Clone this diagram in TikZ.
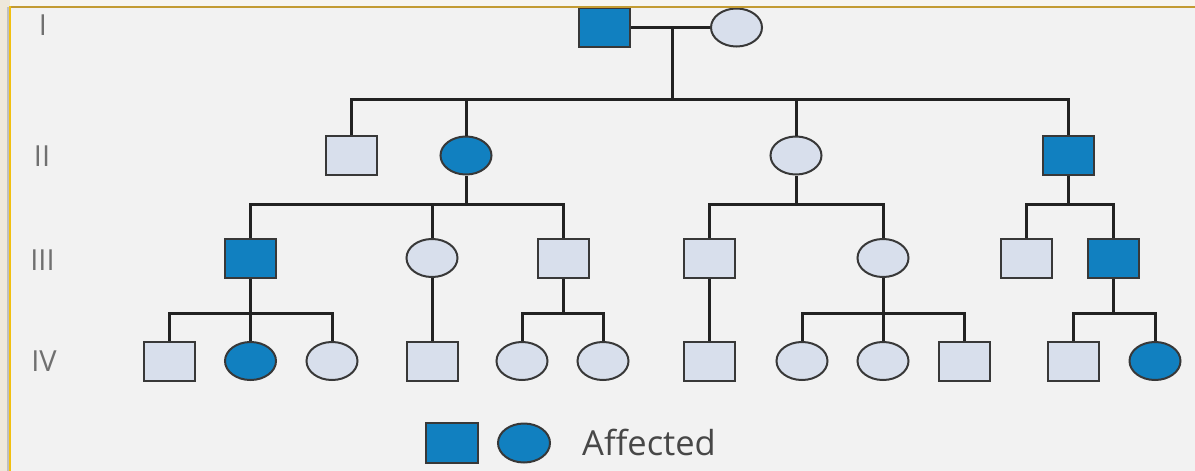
\documentclass[tikz,border=0pt]{standalone}
\usepackage{fontspec}
\setmainfont{Open Sans}
\usetikzlibrary{shapes.geometric}
\definecolor{paper}{HTML}{F2F2F2}
\definecolor{outside}{HTML}{EEE8DB}
\definecolor{outsidetop}{HTML}{F7F5EF}
\definecolor{framegold}{HTML}{C39B32}
\definecolor{frameyellow}{HTML}{F2C010}
\definecolor{affblue}{HTML}{1180C0}
\definecolor{unaff}{HTML}{D8DFEC}
\definecolor{edge}{HTML}{383838}
\definecolor{linecol}{HTML}{222222}
\definecolor{labelgray}{HTML}{707070}
\begin{document}
\begin{tikzpicture}[x=1pt,y={(0,-1pt)},
  person/.style={draw=edge,line width=2pt,inner sep=0pt,minimum width=51pt,minimum height=39pt},
  male/.style={person,rectangle,fill=unaff},
  female/.style={person,ellipse,fill=unaff,minimum height=38pt},
  affected/.style={fill=affblue},
  link/.style={draw=linecol,line width=3pt},
  genlabel/.style={text=labelgray,font=\fontsize{29}{34}\selectfont,inner sep=0pt}
]
% page and frame
\useasboundingbox (0,0) rectangle (1195,471);
\fill[outside] (0,0) rectangle (1195,471);
\fill[outsidetop] (10,0) rectangle (1195,7);
\fill[black!25] (7,7) rectangle (9,471);
\fill[paper] (10,7) rectangle (1195,471);

% generation I
\node[male,affected] (I1) at (604.5,27.5) {};
\node[female] (I2) at (736.5,27.5) {};

% generation II
\node[male] (II1) at (351,155.5) {};
\node[female,affected] (II2) at (466,155.5) {};
\node[female] (II3) at (796,155.5) {};
\node[male,affected] (II4) at (1068,155.5) {};

% generation III
\node[male,affected] (III1) at (250.5,258) {};
\node[female] (III2) at (432,258) {};
\node[male] (III3) at (563,258) {};
\node[male] (III4) at (709,258) {};
\node[female] (III5) at (883,258) {};
\node[male] (III6) at (1026,258) {};
\node[male,affected] (III7) at (1113,258) {};

% generation IV
\node[male] (IV1) at (169,361) {};
\node[female,affected] (IV2) at (250.5,361) {};
\node[female] (IV3) at (332,361) {};
\node[male] (IV4) at (432,361) {};
\node[female] (IV5) at (522,361) {};
\node[female] (IV6) at (603,361) {};
\node[male] (IV7) at (709,361) {};
\node[female] (IV8) at (802,361) {};
\node[female] (IV9) at (883,361) {};
\node[male] (IV10) at (964,361) {};
\node[male] (IV11) at (1073,361) {};
\node[female,affected] (IV12) at (1155,361) {};

% mating point and sibship levels
\coordinate (mate) at (672,27.5);
\coordinate (bar2) at (0,99);
\coordinate (bar3) at (0,204);
\coordinate (bar4) at (0,313);

% mating and descent lines
\draw[link] (I1) -- (I2);
\draw[link] (mate) -- (mate |- bar2);
\draw[link] (II1.north) -- (II1.north |- bar2) -- (II4.north |- bar2) -- (II4.north);
\draw[link] (II2.north) -- (II2.north |- bar2);
\draw[link] (II3.north) -- (II3.north |- bar2);

\draw[link] (II2.south) -- (II2.south |- bar3);
\draw[link] (III1.north) -- (III1.north |- bar3) -- (III3.north |- bar3) -- (III3.north);
\draw[link] (III2.north) -- (III2.north |- bar3);

\draw[link] (II3.south) -- (II3.south |- bar3);
\draw[link] (III4.north) -- (III4.north |- bar3) -- (III5.north |- bar3) -- (III5.north);

\draw[link] (II4.south) -- (II4.south |- bar3);
\draw[link] (III6.north) -- (III6.north |- bar3) -- (III7.north |- bar3) -- (III7.north);

\draw[link] (III1.south) -- (III1.south |- bar4);
\draw[link] (IV1.north) -- (IV1.north |- bar4) -- (IV3.north |- bar4) -- (IV3.north);
\draw[link] (IV2.north) -- (IV2.north |- bar4);

\draw[link] (III2.south) -- (IV4.north);

\draw[link] (III3.south) -- (III3.south |- bar4);
\draw[link] (IV5.north) -- (IV5.north |- bar4) -- (IV6.north |- bar4) -- (IV6.north);

\draw[link] (III4.south) -- (IV7.north);

\draw[link] (III5.south) -- (III5.south |- bar4);
\draw[link] (IV8.north) -- (IV8.north |- bar4) -- (IV10.north |- bar4) -- (IV10.north);
\draw[link] (IV9.north) -- (IV9.north |- bar4);

\draw[link] (III7.south) -- (III7.south |- bar4);
\draw[link] (IV11.north) -- (IV11.north |- bar4) -- (IV12.north |- bar4) -- (IV12.north);

% generation labels
\node[genlabel] (gI) at (43,25) {I};
\node[genlabel] (gII) at (42,156) {II};
\node[genlabel] (gIII) at (42.5,260) {III};
\node[genlabel] (gIV) at (44,361.5) {IV};

% legend
\node[male,affected,minimum width=52pt,minimum height=40pt] (keym) at (452,443) {};
\node[female,affected,minimum width=52pt,minimum height=39pt] (keyf) at (524,443) {};
\node[anchor=base west,inner sep=0pt,text=black!72,font=\fontsize{34.5}{40}\selectfont] (keytext) at (582,455) {Affected};

% frame on top
\draw[framegold,line width=2.5pt] (10,7) -- (1195,7);
\draw[frameyellow,line width=2.5pt] (10,471) -- (10,5.75);
\end{tikzpicture}
\end{document}
